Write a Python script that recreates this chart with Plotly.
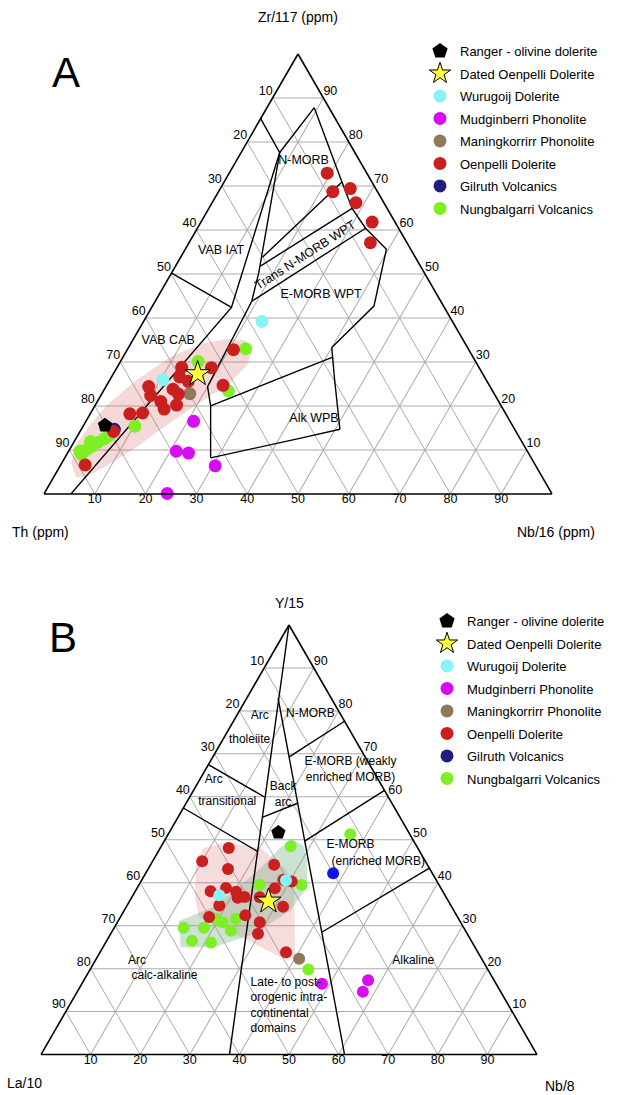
import math
import plotly.graph_objects as go

W, H = 617, 1095
FONT = "Liberation Sans, Arial, Helvetica, sans-serif"

# ---------------- Panel A : Th (left) - Zr/117 (top) - Nb/16 (right), % ----------------
A_ranger = [(80.2, 15.6, 4.2)]
A_dated = [(56.1, 27.3, 16.6)]
A_wurugoij = [(37.5, 39.2, 23.3), (63.6, 26.0, 10.4)]
A_mudginberri = [(62.3, 16.5, 21.2), (69.1, 9.7, 21.2), (66.9, 9.3, 23.8), (63.1, 6.4, 30.5), (75.7, 0.1, 24.2)]
A_maningkorrirr = [(59.9, 22.8, 17.3)]
A_oenpelli = [(46.3, 32.8, 20.9), (52.4, 24.7, 22.9), (52.7, 28.7, 18.6), (58.5, 28.8, 12.7), (60.0, 26.6, 13.4),
              (62.7, 23.8, 13.5), (67.2, 24.4, 8.4), (67.8, 22.4, 9.8), (66.5, 21.0, 12.5), (66.7, 19.3, 14.0),
              (63.8, 20.2, 16.0), (62.2, 22.7, 15.1), (74.0, 18.2, 7.8), (71.4, 18.4, 10.2), (79.2, 14.2, 6.6),
              (88.6, 6.6, 4.8), (58.8, 25.6, 15.6), (7.8, 72.9, 19.3), (8.8, 68.7, 22.5), (5.0, 69.4, 25.6),
              (5.5, 66.2, 28.3), (4.5, 61.8, 33.7), (7.2, 57.1, 35.7)]
A_gilruth = [(78.8, 14.7, 6.5)]
A_nungbalgarri = [(43.8, 33.0, 23.2), (54.6, 30.1, 15.3), (52.0, 23.4, 24.6), (74.4, 15.4, 10.2), (88.1, 9.0, 2.9),
                  (86.5, 10.1, 3.4), (85.2, 10.8, 4.0), (83.6, 11.7, 4.7), (81.9, 12.5, 5.6), (80.5, 13.3, 6.2),
                  (88.1, 9.7, 2.2), (84.9, 11.9, 3.2)]

A_field_lines = [
    [(49.8, 50.2, 0.0), (41.9, 42.4, 15.7)],
    [(14.7, 85.3, 0.0), (14.8, 77.6, 7.6), (41.9, 42.4, 15.7), (94.7, 0.0, 5.3)],
    [(2.9, 87.8, 9.3), (14.8, 77.6, 7.6)],
    [(14.8, 77.6, 7.6), (32.5, 50.4, 17.1), (37.2, 43.8, 19.0), (55.6, 24.4, 20.0), (57.2, 20.0, 22.8), (63.1, 8.2, 28.7)],
    [(63.1, 8.2, 28.7), (43.1, 12.7, 44.2), (34.4, 14.7, 50.9)],
    [(57.2, 20.0, 22.8), (35.4, 28.2, 36.4), (27.6, 31.1, 41.3)],
    [(2.9, 87.8, 9.3), (5.9, 70.9, 23.2), (6.9, 64.9, 28.2), (6.5, 60.4, 33.1), (4.8, 55.6, 39.6),
     (13.7, 42.7, 43.6), (26.7, 33.3, 40.0), (29.8, 26.0, 44.2), (34.4, 14.7, 50.9)],
    [(5.9, 70.9, 23.2), (30.1, 53.8, 16.1)],
    [(6.9, 64.9, 28.2), (31.5, 51.8, 16.7)],
    [(6.5, 60.4, 33.1), (37.2, 43.8, 19.0)],
]
A_shade = [(91.8, 3.8, 4.4), (91.1, 7.1, 1.8), (88.4, 10.9, 0.7), (83.6, 15.3, 1.1), (77.8, 20.0, 2.2),
           (69.3, 25.6, 5.1), (59.3, 31.3, 9.4), (51.7, 34.2, 14.1), (46.1, 35.3, 18.6), (42.8, 34.9, 22.3),
           (43.0, 32.2, 24.8), (45.4, 29.3, 25.3), (50.7, 25.3, 24.0), (58.3, 21.1, 20.6), (67.4, 16.0, 16.6),
           (76.9, 10.4, 12.7), (85.2, 6.0, 8.8), (89.9, 3.8, 6.3)]
A_label_text = ["N-MORB", "VAB IAT", "E-MORB WPT", "VAB CAB", "Alk WPB"]
A_label_pos = [(11.1, 75.6, 13.3), (37.5, 55.3, 7.2), (22.8, 45.3, 31.9), (58.1, 34.9, 7.0), (38.3, 17.1, 44.6)]
A_trans_label = "Trans N-MORB WPT"
A_trans_pos = (21.4, 54.2, 24.4)

# ---------------- Panel B : La/10 (left) - Y/15 (top) - Nb/8 (right), % ----------------
B_ranger = [(26.3, 51.7, 22.0)]
B_dated = [(36.3, 35.7, 28.0)]
B_wurugoij = [(45.5, 37.1, 17.4), (30.3, 40.6, 29.1)]
B_mudginberri = [(35.1, 16.5, 48.4), (25.4, 17.3, 57.3), (27.8, 14.6, 57.6)]
B_maningkorrirr = [(36.8, 22.3, 40.9)]
B_oenpelli = [(38.1, 48.1, 13.8), (45.0, 45.0, 10.0), (40.7, 43.2, 16.1), (30.9, 44.2, 24.9), (46.8, 38.0, 15.2),
              (43.3, 38.8, 17.9), (46.7, 34.7, 18.6), (42.1, 36.5, 21.4), (40.6, 36.7, 22.7), (37.6, 36.6, 25.8),
              (34.0, 34.4, 31.6), (30.8, 40.7, 28.5), (33.5, 38.7, 27.8), (50.1, 32.0, 17.9), (42.6, 32.4, 25.0),
              (40.5, 30.8, 28.7), (42.2, 28.1, 29.7), (38.7, 23.8, 37.5), (29.3, 40.3, 30.4), (41.7, 37.9, 20.4)]
B_gilruth = [(20.0, 42.2, 37.8)]
B_nungbalgarri = [(25.4, 48.5, 26.1), (56.5, 29.5, 14.0), (52.4, 29.5, 18.1), (56.3, 26.5, 17.2), (52.7, 26.1, 21.2),
                  (48.0, 30.8, 21.2), (47.3, 28.8, 23.9), (44.9, 31.6, 23.5), (36.2, 39.5, 24.3), (27.7, 39.5, 32.8),
                  (36.2, 19.8, 44.0), (49.0, 31.6, 19.4), (12.0, 51.3, 36.7)]

B_field_lines = [
    [(0.0, 100.0, 0.0), (62.0, 0.0, 38.0)],
    [(10.7, 83.0, 6.3), (38.8, 0.0, 61.2)],
    [(32.5, 67.5, 0.0), (24.9, 59.9, 15.2)],
    [(42.6, 57.4, 0.0), (32.7, 47.3, 20.0)],
    [(27.8, 55.2, 17.0), (19.0, 58.5, 22.5)],
    [(0.0, 77.6, 22.4), (15.3, 69.3, 15.4)],
    [(0.0, 61.5, 38.5), (22.0, 49.7, 28.3)],
    [(0.0, 43.4, 56.6), (29.2, 28.5, 42.4)],
]
B_shade_red = [(46.1, 45.3, 8.6), (43.1, 48.1, 8.8), (37.9, 49.5, 12.6), (31.6, 47.9, 20.5), (29.1, 43.4, 27.5),
               (29.0, 39.9, 31.1), (37.5, 22.6, 39.9), (39.7, 22.2, 38.1), (52.1, 32.1, 15.8), (50.8, 36.3, 12.9)]
B_shade_green = [(56.7, 31.1, 12.2), (47.9, 34.4, 17.7), (35.0, 42.7, 22.3), (27.8, 48.1, 24.1), (24.3, 50.2, 25.5),
                 (22.8, 48.6, 28.6), (23.7, 45.3, 31.0), (27.0, 38.7, 34.3), (33.1, 33.5, 33.4), (42.9, 28.1, 29.0),
                 (52.6, 25.0, 22.4), (59.3, 25.0, 15.7)]
B_label_text = ["Arc", "tholeiite", "N-MORB", "Arc", "transitional", "Back<br>arc", "E-MORB (weakly",
                "enriched MORB)", "E-MORB", "(enriched MORB)", "Arc", "calc-alkaline", "Alkaline"]
B_label_pos = [(16.5, 78.8, 4.7), (21.3, 73.3, 5.4), (6.1, 79.2, 14.7), (33.2, 63.9, 2.9), (33.1, 58.7, 8.2),
               (21.0, 60.4, 18.6), (3.6, 68.0, 28.4), (5.4, 64.4, 30.2), (13.2, 48.8, 38.0),
               (9.6, 44.8, 45.6), (69.8, 21.7, 8.5), (66.0, 18.2, 15.8), (14.1, 21.7, 64.2)]
B_block_text = "Late- to post-<br>orogenic intra-<br>continental<br>domains"
B_block_pos = (52.1, 11.3, 36.6)

TICKS = [10, 20, 30, 40, 50, 60, 70, 80, 90]

SERIES_NAMES = ["Ranger - olivine dolerite", "Dated Oenpelli Dolerite", "Wurugoij Dolerite",
                "Mudginberri Phonolite", "Maningkorrirr Phonolite", "Oenpelli Dolerite",
                "Gilruth Volcanics", "Nungbalgarri Volcanics"]
SERIES_COLORS = ["#000000", "#ffff3a", "#86f4f4", "#d70cf2", "#8e7958", "#c9201f", "#211d7c", "#7cf025"]
SERIES_SYMBOLS = ["pentagon", "star", "circle", "circle", "circle", "circle", "circle", "circle"]

# ---------------- geometry of the two triangles (layout only) ----------------
SQ = math.sqrt(3) / 2
TRI = {
    "ternary": dict(x0=44.0, side=508.0, top=54.0),
    "ternary2": dict(x0=41.0, side=496.0, top=625.0),
}
for t in TRI.values():
    t["bottom"] = t["top"] + t["side"] * SQ


def px(sub, left, top, right):
    g = TRI[sub]
    s = left + top + right
    a, c = top / s, right / s
    return g["x0"] + g["side"] * (c + a / 2), g["bottom"] - g["side"] * SQ * a


def abc(pts):
    return ([p[1] for p in pts], [p[0] for p in pts], [p[2] for p in pts])


fig = go.Figure()

# legend entries (one set per panel)
for sub, leg in (("ternary", "legend"), ("ternary2", "legend2")):
    for i, (nm, col, sym) in enumerate(zip(SERIES_NAMES, SERIES_COLORS, SERIES_SYMBOLS)):
        msize = {"pentagon": 16, "star": 18}.get(sym, 13)
        fig.add_trace(go.Scatterternary(
            a=[None], b=[None], c=[None], subplot=sub, legend=leg, name=nm, mode="markers",
            legendgroup=f"{leg}{i}", legendrank=i + 1, showlegend=True,
            marker=dict(symbol=sym, size=msize, color=col,
                        line=dict(color="black", width=1 if sym == "star" else 0))))


def add_panel(sub, shades, lines, series, csize):
    for poly, fc in shades:
        a, b, c = abc(poly + poly[:1])
        fig.add_trace(go.Scatterternary(a=a, b=b, c=c, subplot=sub, mode="lines", fill="toself",
                                        fillcolor=fc, line=dict(width=0, color=fc), showlegend=False,
                                        hoverinfo="skip"))
    for ln in lines:
        a, b, c = abc(ln)
        fig.add_trace(go.Scatterternary(a=a, b=b, c=c, subplot=sub, mode="lines",
                                        line=dict(color="black", width=1.4), showlegend=False,
                                        hoverinfo="skip", cliponaxis=False))
    for idx, pts in series:
        sym = SERIES_SYMBOLS[idx]
        a, b, c = abc(pts)
        size = {"pentagon": 15, "star": 19}.get(sym, csize)
        col = "#1414e6" if (sub == "ternary2" and idx == 6) else SERIES_COLORS[idx]
        fig.add_trace(go.Scatterternary(
            a=a, b=b, c=c, subplot=sub, mode="markers", showlegend=False, name=SERIES_NAMES[idx],
            marker=dict(symbol=sym, size=size, color=col,
                        line=dict(color="black", width=1 if sym == "star" else 0)),
            cliponaxis=False))
    # tick labels
    left = [(v, 100 - v, 0) for v in TICKS]
    right = [(0, v, 100 - v) for v in TICKS]
    bottom = [(100 - v, 0, v) for v in TICKS]
    for pts, pos in ((left, "top left"), (right, "top right"), (bottom, "bottom center")):
        a, b, c = abc(pts)
        fig.add_trace(go.Scatterternary(a=a, b=b, c=c, subplot=sub, mode="text", text=[str(v) for v in TICKS],
                                        textposition=pos, textfont=dict(size=12.5, color="black", family=FONT),
                                        showlegend=False, hoverinfo="skip", cliponaxis=False))


add_panel("ternary",
          [(A_shade, "rgba(214,96,96,0.24)")],
          A_field_lines,
          [(6, A_gilruth), (4, A_maningkorrirr), (3, A_mudginberri), (7, A_nungbalgarri), (5, A_oenpelli),
           (2, A_wurugoij), (0, A_ranger), (1, A_dated)], 13)
add_panel("ternary2",
          [(B_shade_red, "rgba(214,96,96,0.22)"), (B_shade_green, "rgba(110,170,130,0.34)")],
          B_field_lines,
          [(7, B_nungbalgarri), (5, B_oenpelli), (2, B_wurugoij), (3, B_mudginberri), (4, B_maningkorrirr),
           (6, B_gilruth), (0, B_ranger), (1, B_dated)], 12)

# field labels
a, b, c = abc(A_label_pos)
fig.add_trace(go.Scatterternary(a=a, b=b, c=c, subplot="ternary", mode="text", text=A_label_text,
                                textposition="middle center", textfont=dict(size=12.5, family=FONT, color="black"),
                                showlegend=False, hoverinfo="skip", cliponaxis=False))
a, b, c = abc(B_label_pos)
fig.add_trace(go.Scatterternary(a=a, b=b, c=c, subplot="ternary2", mode="text", text=B_label_text,
                                textposition="middle center", textfont=dict(size=12, family=FONT, color="black"),
                                showlegend=False, hoverinfo="skip", cliponaxis=False))
a, b, c = abc([B_block_pos])
fig.add_trace(go.Scatterternary(a=a, b=b, c=c, subplot="ternary2", mode="text", text=[B_block_text],
                                textposition="middle right", textfont=dict(size=12, family=FONT, color="black"),
                                showlegend=False, hoverinfo="skip", cliponaxis=False))

# rotated label (annotation positioned from ternary coordinates)
p1 = px("ternary", *A_field_lines[9][0])
p2 = px("ternary", *A_field_lines[9][1])
ang = math.degrees(math.atan2(p1[1] - p2[1], p1[0] - p2[0]))
tx, ty = px("ternary", *A_trans_pos)
annotations = [
    dict(x=tx / W, y=1 - ty / H, xref="paper", yref="paper", text=A_trans_label, showarrow=False,
         xanchor="center", yanchor="middle", textangle=ang, font=dict(size=12.5, family=FONT, color="black")),
]


def axis(**kw):
    d = dict(showticklabels=False, ticks="", showgrid=True, gridcolor="#ababab", gridwidth=0.8,
             linecolor="black", linewidth=1.6, tickmode="linear", tick0=0, dtick=10, title=dict(text=""))
    d.update(kw)
    return d


def tern_layout(sub):
    g = TRI[sub]
    return dict(sum=100, bgcolor="white",
                domain=dict(x=[g["x0"] / W, (g["x0"] + g["side"]) / W],
                            y=[1 - g["bottom"] / H, 1 - g["top"] / H]),
                aaxis=axis(), baxis=axis(), caxis=axis())


titles = [("Zr/117 (ppm)", 298, 17), ("Th (ppm)", 40, 532), ("Nb/16 (ppm)", 556, 532),
          ("Y/15", 289, 603), ("La/10", 24, 1083), ("Nb/8", 560, 1086)]
for txt, x, y in titles:
    annotations.append(dict(x=x / W, y=1 - y / H, xref="paper", yref="paper", text=txt, showarrow=False,
                            xanchor="center", yanchor="middle", font=dict(size=14, family=FONT, color="black")))
for txt, x, y in (("A", 66, 73), ("B", 63, 637)):
    annotations.append(dict(x=x / W, y=1 - y / H, xref="paper", yref="paper", text=txt, showarrow=False,
                            xanchor="center", yanchor="middle", font=dict(size=42, family=FONT, color="black")))

leg_common = dict(xanchor="left", yanchor="top", bgcolor="rgba(0,0,0,0)", borderwidth=0,
                  font=dict(size=13, family=FONT, color="black"), traceorder="grouped", tracegroupgap=2.6)
fig.update_layout(
    width=W, height=H, margin=dict(l=0, r=0, t=0, b=0),
    paper_bgcolor="white", plot_bgcolor="white", hovermode=False,
    font=dict(family=FONT, color="black"),
    ternary=tern_layout("ternary"), ternary2=tern_layout("ternary2"),
    legend=dict(x=420 / W, y=1 - 36 / H, **leg_common),
    legend2=dict(x=427 / W, y=1 - 606 / H, **leg_common),
    annotations=annotations,
)

fig.write_html("out.html")
